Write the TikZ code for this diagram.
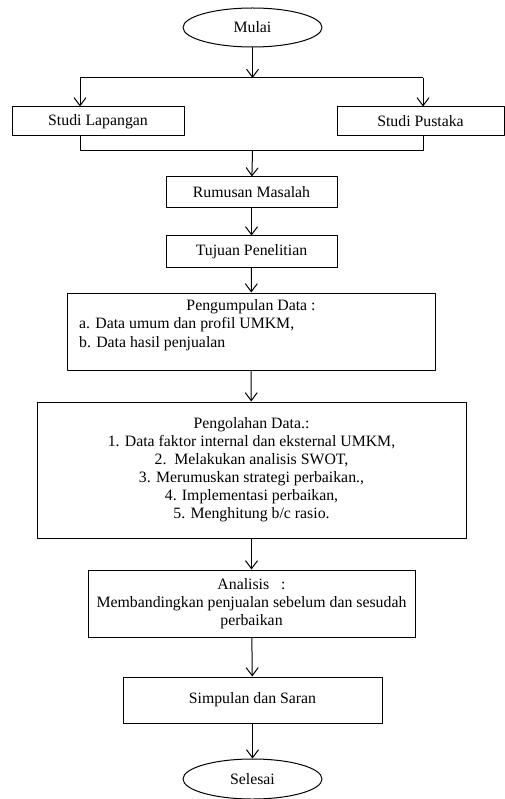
\documentclass[tikz,border=0pt]{standalone}
\usepackage{fontspec}
\setmainfont{Liberation Serif}
\usetikzlibrary{shapes.geometric,arrows.meta}
\tikzset{
 kotak/.style={draw, rectangle, line width=1pt, inner sep=0pt},
 oval/.style={draw, ellipse, line width=1pt, inner sep=0pt},
 teks/.style={inner sep=0pt, align=center},
 panah/.style={-{Straight Barb[length=8pt,width=12pt,line width=1pt]}, line width=1pt}
}
\begin{document}
\begin{tikzpicture}[x=1pt, y=-1pt, font=\fontsize{15.8}{18}\selectfont, line join=round]
 \useasboundingbox (0,0) rectangle (505,799);
 % mulai dan dua studi
 \node[oval, minimum width=139, minimum height=39] (mulai) at (252.5,27.5) {Mulai};
 \node[kotak, minimum width=172, minimum height=29] (lapangan) at (98,121.5) {Studi Lapangan};
 \node[kotak, minimum width=167, minimum height=29] (pustaka) at (420.5,121.5) {Studi Pustaka};
 \coordinate (pisah) at (252.5,78);
 \coordinate (kiri) at (80,78);
 \coordinate (kanan) at (423,78);
 \coordinate (gabung) at (252.5,151);
 \draw[panah] (mulai) -- (pisah);
 \draw[line width=1pt] (kiri) -- (kanan);
 \draw[panah] (kiri) -- (kiri |- lapangan.north);
 \draw[panah] (kanan) -- (kanan |- pustaka.north);
 \draw[line width=1pt] (kiri |- lapangan.south) -- (kiri |- gabung) -- (kanan |- gabung) -- (kanan |- pustaka.south);
 % alur utama
 \node[kotak, minimum width=171, minimum height=31] (rumusan) at (251.5,192.5) {Rumusan Masalah};
 \node[kotak, minimum width=171, minimum height=31] (tujuan) at (251.5,251.5) {Tujuan Penelitian};
 \node[kotak, minimum width=368, minimum height=77] (kumpul) at (251,331.5) {};
 \node[teks] (kumpuljudul) at (251,307) {Pengumpulan Data :};
 \node[teks, anchor=west] (kumpula) at (79,325) {a. Data umum dan profil UMKM,};
 \node[teks, anchor=west] (kumpulb) at (79,344) {b. Data hasil penjualan};
 \node[kotak, minimum width=429, minimum height=136] (olah) at (251.5,470) {};
 \node[teks] (olahteks) at (251.5,470) {Pengolahan Data.:\\
  1. Data faktor internal dan eksternal UMKM,\\
  2.\ \ Melakukan analisis SWOT,\\
  3. Merumuskan strategi perbaikan.,\\
  4. Implementasi perbaikan,\\
  5. Menghitung b/c rasio.};
 \node[kotak, minimum width=327, minimum height=67] (analisis) at (251.5,603.5) {};
 \node[teks] (analisisteks) at (251.5,603.5) {Analisis\ \ \ :\\
  Membandingkan penjualan sebelum dan sesudah\\
  perbaikan};
 \node[kotak, minimum width=259, minimum height=46] (simpulan) at (252.5,700) {Simpulan dan Saran};
 \node[oval, minimum width=139, minimum height=40] (selesai) at (252.5,779) {Selesai};
 \draw[panah] (gabung) -- (rumusan);
 \draw[panah] (rumusan) -- (tujuan);
 \draw[panah] (tujuan) -- (kumpul);
 \draw[panah] (kumpul) -- (olah);
 \draw[panah] (olah) -- (analisis);
 \draw[panah] (analisis) -- (simpulan);
 \draw[panah] (simpulan) -- (selesai);
\end{tikzpicture}
\end{document}
